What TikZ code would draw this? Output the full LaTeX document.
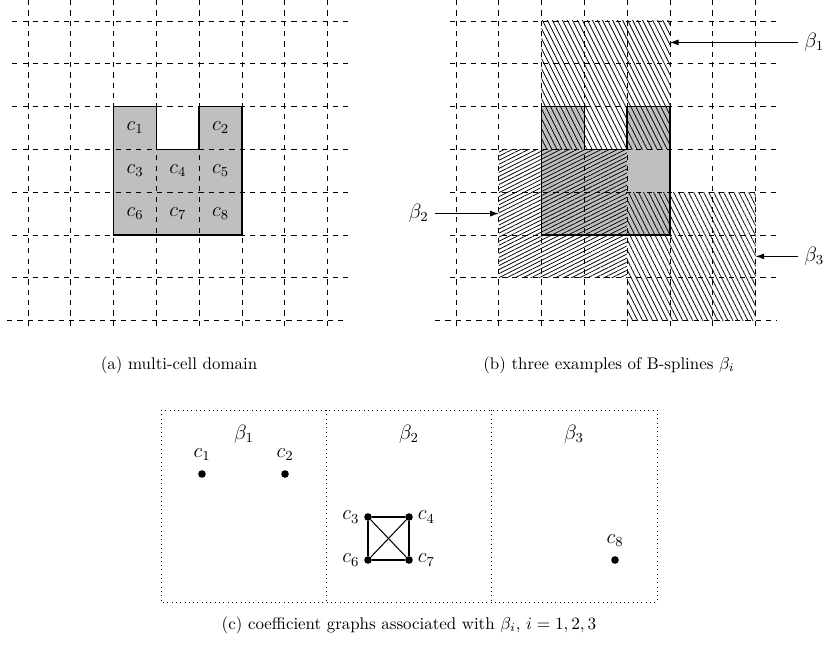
\documentclass[tikz,border=0pt]{standalone}
\usetikzlibrary{patterns.meta,arrows.meta}
\begin{document}
\begin{tikzpicture}[x=0.58pt,y=-0.58pt,
  every node/.style={font=\fontsize{11.5}{14}\selectfont},
  caption/.style={font=\fontsize{9.8}{12}\selectfont},
  gridline/.style={dashed,line width=0.4pt},
  domainfill/.style={fill=black!25},
  domainborder/.style={line width=0.9pt,line join=miter},
  hatchA/.style={pattern={Lines[angle=-63.4,distance=2.6pt,line width=0.45pt]}},
  hatchB/.style={pattern={Lines[angle=26.6,distance=2.1pt,line width=0.45pt]}},
  pointer/.style={line width=0.5pt,-{Latex[length=5pt,width=3.5pt]}},
  dot/.style={circle,fill=black,inner sep=0pt,minimum size=4.4pt},
  gedge/.style={line width=0.6pt},
  box/.style={dotted,line width=0.5pt}]
\useasboundingbox (0,0) rectangle (833,649);

% ---------------- panel (a)
\begin{scope}[shift={(28,21)},x=24.824pt,y=-24.824pt]
  \fill[domainfill] (2,2) -- (3,2) -- (3,3) -- (4,3) -- (4,2) -- (5,2) -- (5,5) -- (2,5) -- cycle;
  \foreach \i in {0,...,7} \draw[gridline] (\i,-0.49) -- (\i,7.12);
  \foreach \j in {0,...,6} \draw[gridline] (-0.37,\j) -- (7.48,\j);
  \draw[gridline] (-0.49,7) -- (7.48,7);
  \draw[domainborder] (2,2) -- (3,2) -- (3,3) -- (4,3) -- (4,2) -- (5,2) -- (5,5) -- (2,5) -- cycle;
  \node (ac1) at (2.5,2.5) {$c_1$};
  \node (ac2) at (4.5,2.5) {$c_2$};
  \node (ac3) at (2.5,3.5) {$c_3$};
  \node (ac4) at (3.5,3.5) {$c_4$};
  \node (ac5) at (4.5,3.5) {$c_5$};
  \node (ac6) at (2.5,4.5) {$c_6$};
  \node (ac7) at (3.5,4.5) {$c_7$};
  \node (ac8) at (4.5,4.5) {$c_8$};
\end{scope}
\node[caption] (capa) at (179,365) {(a) multi-cell domain};

% ---------------- panel (b)
\begin{scope}[shift={(456,21)},x=24.824pt,y=-24.824pt]
  \fill[domainfill] (2,2) -- (3,2) -- (3,3) -- (4,3) -- (4,2) -- (5,2) -- (5,5) -- (2,5) -- cycle;
  \fill[hatchA] (2,0) rectangle (5,3);
  \fill[hatchB] (1,3) rectangle (4,6);
  \fill[hatchA] (4,4) rectangle (7,7);
  \foreach \i in {0,...,7} \draw[gridline] (\i,-0.49) -- (\i,7.12);
  \foreach \j in {0,...,6} \draw[gridline] (-0.14,\j) -- (7.5,\j);
  \draw[gridline] (-0.49,7) -- (7.5,7);
  \draw[domainborder] (2,2) -- (3,2) -- (3,3) -- (4,3) -- (4,2) -- (5,2) -- (5,5) -- (2,5) -- cycle;
  \coordinate (t1) at (5,0.5);
  \coordinate (t2) at (1,4.5);
  \coordinate (t3) at (7,5.5);
  \node[anchor=west] (lb1) at (8,0.5) {$\beta_1$};
  \node[anchor=east] (lb2) at (-0.5,4.5) {$\beta_2$};
  \node[anchor=west] (lb3) at (8,5.5) {$\beta_3$};
  \draw[pointer] (lb1.west) -- (t1);
  \draw[pointer] (lb2.east) -- (t2);
  \draw[pointer] (lb3.west) -- (t3);
\end{scope}
\node[caption] (capb) at (609,365) {(b) three examples of B-splines $\beta_i$};

% ---------------- panel (c)
\draw[box] (161,410) rectangle (657,602);
\draw[box] (326.3,410) -- (326.3,602);
\draw[box] (491.7,410) -- (491.7,602);
\node (gb1) at (244,434) {$\beta_1$};
\node (gb2) at (409,434) {$\beta_2$};
\node (gb3) at (574,434) {$\beta_3$};

\node[dot] (g1) at (202,474) {};
\node[dot] (g2) at (285,474) {};
\node[anchor=south,inner sep=1pt] (l1) at (202,463) {$c_1$};
\node[anchor=south,inner sep=1pt] (l2) at (285,463) {$c_2$};

\node[dot] (g3) at (368,517) {};
\node[dot] (g4) at (409,517) {};
\node[dot] (g6) at (368,560) {};
\node[dot] (g7) at (409,560) {};
\draw[gedge] (g3) -- (g4) -- (g7) -- (g6) -- (g3);
\draw[gedge] (g3) -- (g7);
\draw[gedge] (g4) -- (g6);
\node[anchor=east,inner sep=2.5pt] (l3) at (g3.west) {$c_3$};
\node[anchor=west,inner sep=2.5pt] (l4) at (g4.east) {$c_4$};
\node[anchor=east,inner sep=2.5pt] (l6) at (g6.west) {$c_6$};
\node[anchor=west,inner sep=2.5pt] (l7) at (g7.east) {$c_7$};

\node[dot] (g8) at (615,560) {};
\node[anchor=south,inner sep=1pt] (l8) at (615,549) {$c_8$};

\node[caption] (capc) at (409,625) {(c) coefficient graphs associated with $\beta_i$, $i=1,2,3$};
\end{tikzpicture}
\end{document}
